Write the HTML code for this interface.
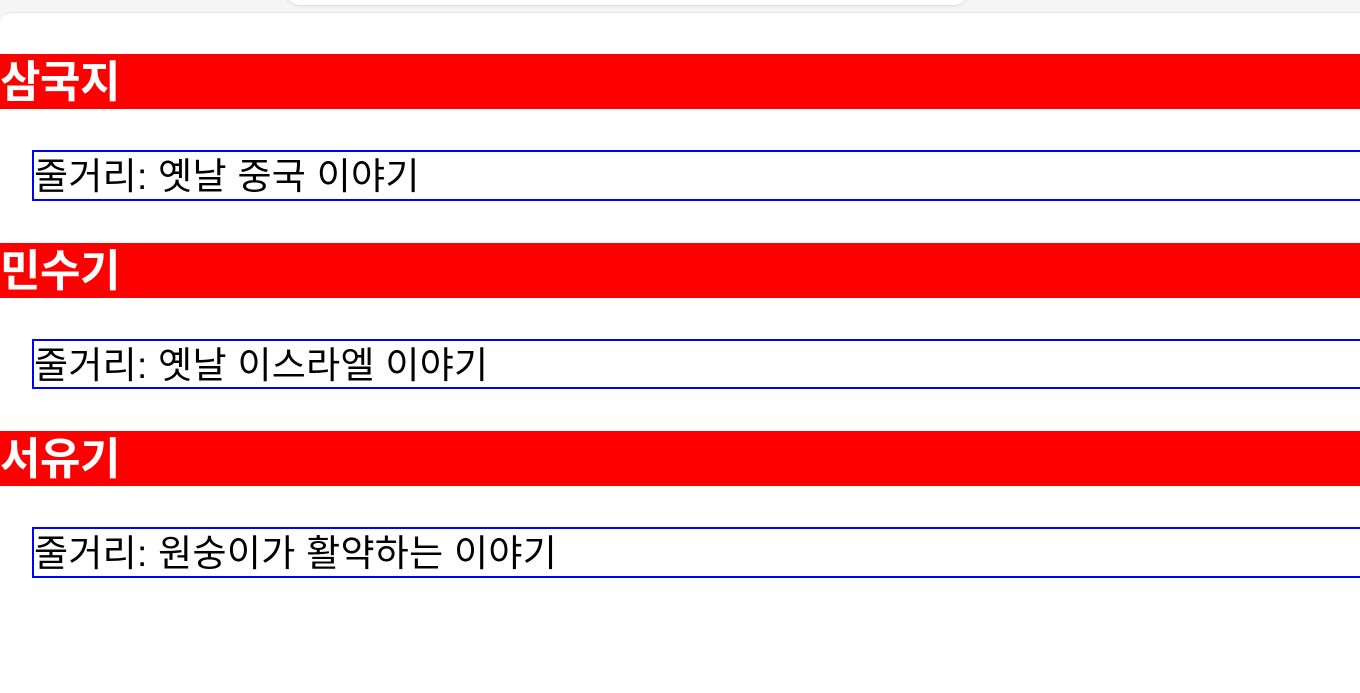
<!DOCTYPE html>
<html><head><meta charset="utf-8"><style>
html,body{margin:0;padding:0;width:1360px;height:668px;overflow:hidden;background:#f5f5f5;font-family:"Liberation Sans","Noto Sans CJK KR",sans-serif}
#bar{position:absolute;left:286px;top:-20px;width:682px;height:25px;background:#fff;border-radius:0 0 14px 14px;box-shadow:0 1px 3px rgba(0,0,0,.12)}
#card{position:absolute;left:0;top:12px;width:1362px;height:680px;background:#fff;border-top-left-radius:12px;border-top:1px solid #e6e6e6}
.h{position:absolute;left:0;width:1362px;height:55px;background:#f00;color:#fff;font-weight:bold;font-size:44px;line-height:58px;margin:0;letter-spacing:-0.5px;overflow:hidden}
.b{position:absolute;left:32px;width:1340px;height:47px;border:2px solid #00f;border-right:none;box-sizing:border-box;font-size:37px;line-height:50px;padding-left:0;color:#000;letter-spacing:0.3px;overflow:hidden}
</style></head><body>
<div id="bar"></div>
<div id="card"></div>
<h1 class="h" style="top:54px">삼국지</h1>
<div class="b" style="top:150px;height:51px">줄거리: 옛날 중국 이야기</div>
<h1 class="h" style="top:243px">민수기</h1>
<div class="b" style="top:339px;height:50px">줄거리: 옛날 이스라엘 이야기</div>
<h1 class="h" style="top:431px">서유기</h1>
<div class="b" style="top:527px;height:51px">줄거리: 원숭이가 활약하는 이야기</div>
</body></html>
